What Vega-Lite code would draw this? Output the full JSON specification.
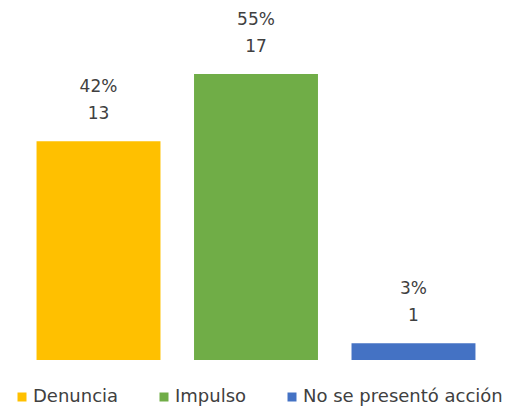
{
  "$schema": "https://vega.github.io/schema/vega-lite/v6.json",
  "width": 512,
  "height": 360,
  "padding": {"top": 0, "left": 0, "right": 0, "bottom": 51},
  "autosize": {"type": "none"},
  "background": "white",
  "config": {"view": {"stroke": null}, "font": "DejaVu Sans"},
  "data": {"values": [
    {"categoria": "Denuncia", "casos": 13, "pct": "42%"},
    {"categoria": "Impulso", "casos": 17, "pct": "55%"},
    {"categoria": "No se presentó acción", "casos": 1, "pct": "3%"}
  ]},
  "encoding": {
    "x": {"field": "categoria", "type": "nominal", "sort": null, "axis": null,
          "scale": {"paddingInner": 0.213, "paddingOuter": 0.232}},
    "y": {"field": "casos", "type": "quantitative", "axis": null, "scale": {"domain": [0, 21.4], "nice": false}}
  },
  "layer": [
    {
      "mark": {"type": "bar"},
      "encoding": {
        "color": {"field": "categoria", "type": "nominal", "sort": null,
          "scale": {"domain": ["Denuncia", "Impulso", "No se presentó acción"], "range": ["#FFC000", "#70AD47", "#4472C4"]},
          "legend": {"title": null, "orient": "none", "legendX": 13, "legendY": 388, "direction": "horizontal",
            "symbolType": "square", "symbolSize": 81, "symbolStrokeWidth": 0, "labelFontSize": 18, "labelColor": "#404040",
            "labelFont": "DejaVu Sans", "labelLimit": 300, "columnPadding": 36, "labelOffset": 2}}
      }
    },
    {
      "mark": {"type": "text", "dy": -27, "baseline": "middle", "fontSize": 17, "color": "#404040"},
      "encoding": {"text": {"field": "casos", "type": "quantitative"}}
    },
    {
      "mark": {"type": "text", "dy": -54, "baseline": "middle", "fontSize": 17, "color": "#404040"},
      "encoding": {"text": {"field": "pct", "type": "nominal"}}
    }
  ]
}
